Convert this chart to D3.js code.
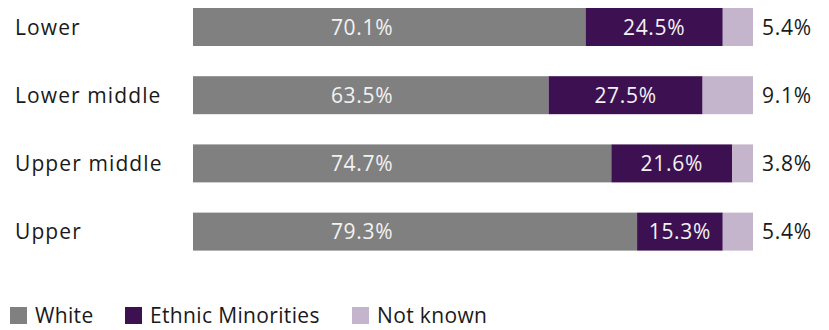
<!DOCTYPE html>
<html>
<head>
<meta charset="utf-8">
<script src="https://cdn.jsdelivr.net/npm/d3@7"></script>
<style>
  html, body { margin: 0; padding: 0; background: #fff; }
  svg { display: block; font-family: "Open Sans", Lato, sans-serif; font-weight: 400; }
</style>
</head>
<body>
<svg id="chart" width="829" height="330"></svg>
<script>
// Household income groups and ethnicity shares (%)
const categories = ["Lower", "Lower middle", "Upper middle", "Upper"];
const white = [70.1, 63.5, 74.7, 79.3];
const minorities = [24.5, 27.5, 21.6, 15.3];
const notKnown = [5.4, 9.1, 3.8, 5.4];
const seriesNames = ["White", "Ethnic Minorities", "Not known"];
const colors = ["#808080", "#3d1052", "#c4b5cc"];

const svg = d3.select("#chart");

const x = d3.scaleLinear().domain([0, 100]).range([193, 753]);
const y = d3.scaleBand().domain(categories).range([8, 250.6]).paddingInner(0.443).paddingOuter(0);

const rows = categories.map((c, i) => ({ cat: c, vals: [white[i], minorities[i], notKnown[i]] }));

const fontSize = 21;
const fmt = v => d3.format(".1f")(v) + "%";

// Category labels
svg.append("g").selectAll("text")
  .data(rows).join("text")
  .attr("x", 15)
  .attr("y", d => y(d.cat) + y.bandwidth() / 2)
  .attr("dy", "0.36em")
  .attr("font-size", fontSize)
  .attr("letter-spacing", "1.1px")
  .attr("fill", "#1a1a1a")
  .text(d => d.cat);

// Stacked segments with their labels
const rowG = svg.append("g").selectAll("g")
  .data(rows).join("g");

rowG.each(function(d) {
  const g = d3.select(this);
  let acc = 0;
  const segs = d.vals.map((v, k) => {
    const s = { k, v, x0: acc, x1: Math.min(100, acc + v) };
    acc += v;
    return s;
  });
  g.selectAll("rect").data(segs).join("rect")
    .attr("x", s => x(s.x0))
    .attr("width", s => x(s.x1) - x(s.x0))
    .attr("y", y(d.cat))
    .attr("height", y.bandwidth())
    .attr("fill", s => colors[s.k]);

  const cy = y(d.cat) + y.bandwidth() / 2;
  const label = (xPos, anchor, fill, v) => g.append("text")
    .attr("x", xPos)
    .attr("y", cy).attr("dy", "0.36em")
    .attr("text-anchor", anchor)
    .attr("font-size", fontSize)
    .attr("letter-spacing", "0.7px")
    .attr("fill", fill)
    .text(fmt(v));

  // White share: fixed column inside the grey segment
  label(x(30.2), "middle", "#f2f2f2", segs[0].v);
  // Ethnic minorities share: centred in its segment
  label((x(segs[1].x0) + x(segs[1].x1)) / 2, "middle", "#f2f2f2", segs[1].v);
  // Not known share: right of the bar
  label(x(100) + 9, "start", "#1a1a1a", segs[2].v);
});

// Legend
const legendX = [10, 125, 352];
const legend = svg.append("g").selectAll("g")
  .data(seriesNames).join("g")
  .attr("transform", (d, i) => `translate(${legendX[i]},307)`);
legend.append("rect")
  .attr("width", 17).attr("height", 17)
  .attr("fill", (d, i) => colors[i]);
legend.append("text")
  .attr("x", 25).attr("y", 8.5).attr("dy", "0.36em")
  .attr("font-size", fontSize)
  .attr("letter-spacing", "0.35px")
  .attr("fill", "#1a1a1a")
  .text(d => d);
</script>
</body>
</html>
